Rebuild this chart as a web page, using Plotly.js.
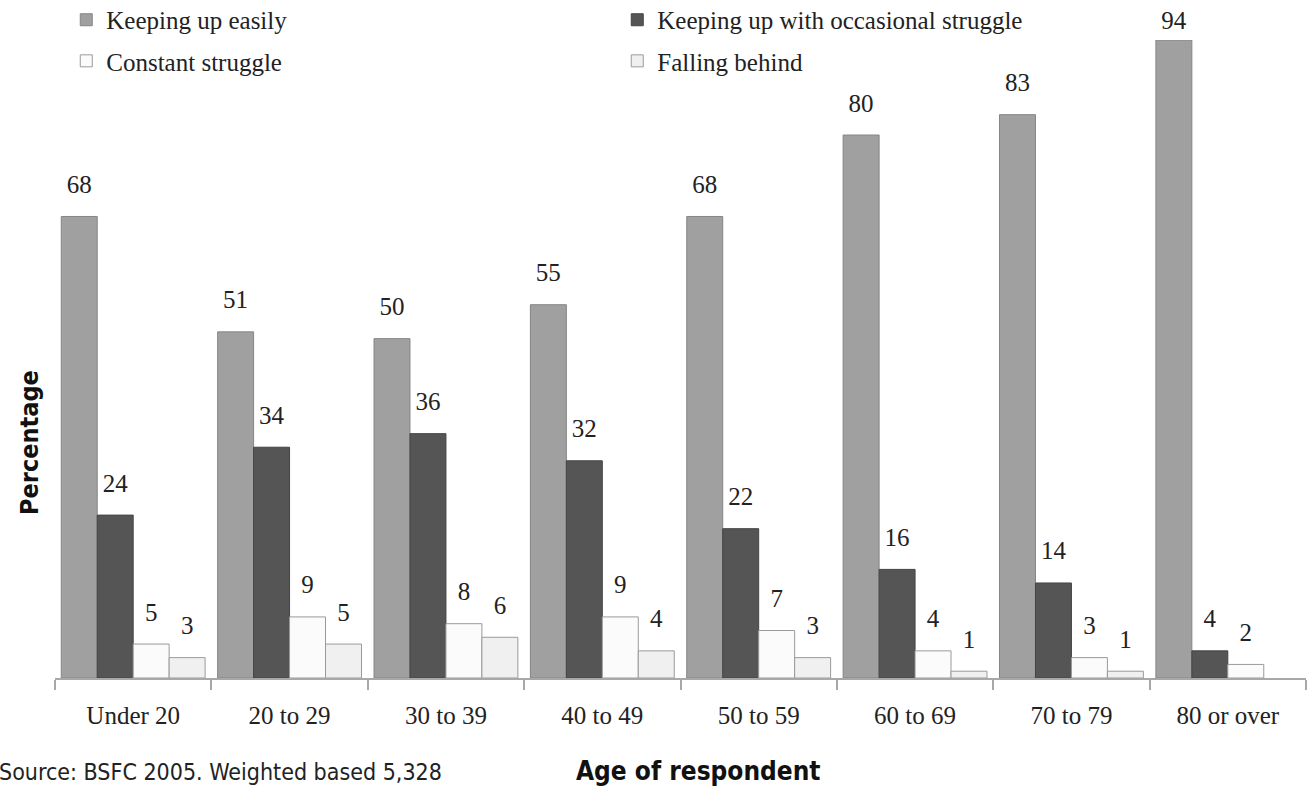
<!DOCTYPE html>
<html>
<head>
<meta charset="utf-8">
<script src="https://cdn.plot.ly/plotly-3.0.1.min.js"></script>
<style>
  html, body { margin: 0; padding: 0; background: #ffffff; }
  #chart { width: 1307px; height: 787px; }
</style>
</head>
<body>
<div id="chart"></div>
<script>
// Age bands on the category axis
const ageGroups = ['Under 20', '20 to 29', '30 to 39', '40 to 49', '50 to 59', '60 to 69', '70 to 79', '80 or over'];

// Percentage of respondents in each band
const keepingUpEasily    = [68, 51, 50, 55, 68, 80, 83, 94];
const occasionalStruggle = [24, 34, 36, 32, 22, 16, 14, 4];
const constantStruggle   = [5, 9, 8, 9, 7, 4, 3, 2];
const fallingBehind      = [3, 5, 6, 4, 3, 1, 1, null];

const seriesNames = ['Keeping up easily', 'Keeping up with occasional struggle', 'Constant struggle', 'Falling behind'];
const seriesValues = [keepingUpEasily, occasionalStruggle, constantStruggle, fallingBehind];
const fills = ['#a0a0a0', '#555555', '#fbfbfb', '#f0f0f0'];
const edges = ['#858585', '#444444', '#9a9a9a', '#9a9a9a'];
// first row of the key holds the two "keeping up" series, second row the rest
const keyRows = ['legend', 'legend', 'legend2', 'legend2'];

const serif = "'Liberation Serif', 'Times New Roman', 'DejaVu Serif', serif";
const narrow = "'Liberation Sans Narrow', 'DejaVu Sans Condensed', 'Arial Narrow', 'Roboto', sans-serif";

const traces = [];

// Bars, one trace per response
seriesNames.forEach((name, i) => {
  traces.push({
    type: 'bar',
    name: name,
    legend: keyRows[i],
    x: ageGroups,
    y: seriesValues[i],
    marker: { color: fills[i], line: { color: edges[i], width: 1 } },
    hoverinfo: 'x+y+name'
  });
});

// Value labels, grouped the same way as the bars and floated above them
seriesNames.forEach((name, i) => {
  const lift = seriesValues[i].map(v => (v !== null && v > 90 ? 6 : 26));
  traces.push({
    type: 'scatter',
    mode: 'markers+text',
    x: ageGroups,
    y: seriesValues[i],
    text: seriesValues[i].map(v => (v === null ? '' : String(v))),
    textposition: 'top center',
    textfont: { family: serif, size: 25, color: '#222222' },
    marker: { size: lift, opacity: 0 },
    cliponaxis: false,
    showlegend: false,
    hoverinfo: 'skip'
  });
});

const keyStyle = {
  orientation: 'h',
  x: 0.009,
  xanchor: 'left',
  yanchor: 'top',
  entrywidth: 506,
  bgcolor: 'rgba(0,0,0,0)',
  font: { family: serif, size: 25, color: '#222222' },
  traceorder: 'normal'
};

const layout = {
  width: 1307,
  height: 787,
  margin: { l: 55, r: 1, t: 40, b: 109, autoexpand: false },
  paper_bgcolor: '#ffffff',
  plot_bgcolor: '#ffffff',
  barmode: 'group',
  bargap: 0.08,
  bargroupgap: 0,
  scattermode: 'group',
  scattergap: 0.08,
  showlegend: true,
  legend: Object.assign({}, keyStyle, { y: 1.0674 }),
  legend2: Object.assign({}, keyStyle, { y: 1.003 }),
  xaxis: {
    type: 'category',
    showline: true,
    linecolor: '#a8a8a8',
    linewidth: 1.5,
    ticks: 'outside',
    tickson: 'boundaries',
    ticklen: 10,
    tickcolor: '#a8a8a8',
    tickwidth: 1.5,
    ticklabelstandoff: 14,
    tickfont: { family: serif, size: 25, color: '#222222' },
    showgrid: false,
    zeroline: false,
    fixedrange: true
  },
  yaxis: {
    range: [0, 94],
    visible: false,
    showgrid: false,
    zeroline: false,
    fixedrange: true
  },
  annotations: [
    {
      text: '<b>Percentage</b>',
      xref: 'paper', yref: 'paper',
      x: -0.02, y: 0.37,
      xanchor: 'center', yanchor: 'middle',
      textangle: -90,
      showarrow: false,
      font: { family: narrow, size: 25, color: '#111111' }
    },
    {
      text: '<b>Age of respondent</b>',
      xref: 'paper', yref: 'paper',
      x: 0.514, y: -0.145,
      xanchor: 'center', yanchor: 'middle',
      showarrow: false,
      font: { family: narrow, size: 26, color: '#111111' }
    },
    {
      text: 'Source: BSFC 2005. Weighted based 5,328',
      xref: 'paper', yref: 'paper',
      x: -0.046, y: -0.1705,
      xanchor: 'left', yanchor: 'bottom',
      showarrow: false,
      font: { family: narrow, size: 23, color: '#222222' }
    }
  ]
};

Plotly.newPlot('chart', traces, layout, { displayModeBar: false, responsive: false });
</script>
</body>
</html>
